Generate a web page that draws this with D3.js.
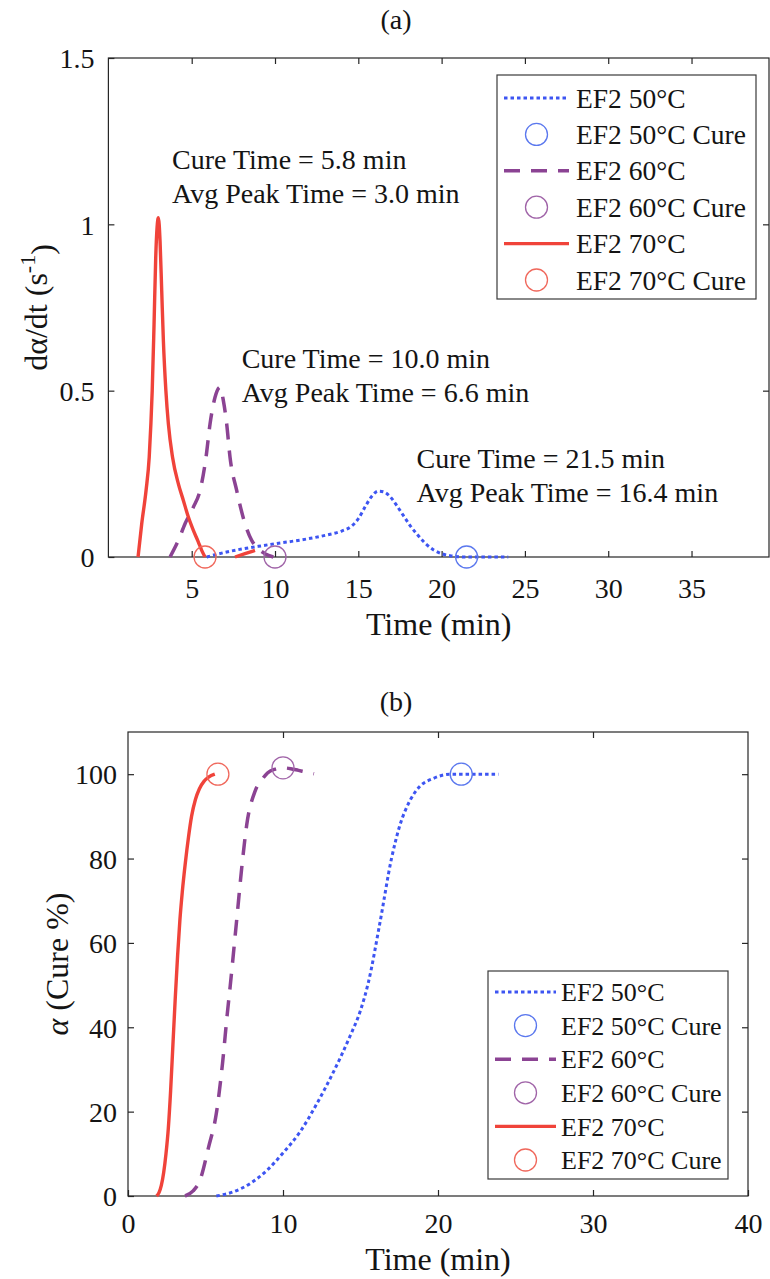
<!DOCTYPE html>
<html>
<head>
<meta charset="utf-8">
<script src="https://cdn.jsdelivr.net/npm/d3@7"></script>
<style>
  html, body { margin: 0; padding: 0; background: #fff; }
  svg, svg text { font-family: "Liberation Serif", "Times New Roman", Times, serif; }
</style>
</head>
<body>
<svg id="fig" width="770" height="1279"></svg>
<script>
// ---- data ---------------------------------------------------------------
const seriesNames = ["EF2 50°C", "EF2 60°C", "EF2 70°C"];
const cureTimes = [21.5, 10.0, 5.8];      // min
const peakTimes = [16.4, 6.6, 3.0];       // min
const cureAlpha = [100, 101.5, 100];      // % at cure point
const cureRate  = [0, 0, 0];              // dα/dt at cure point

// (a) cure rate dα/dt vs time
const rateT50 = [5.9, 6.5, 7, 8, 9, 10, 11, 12, 13, 14, 14.6, 15.0, 15.4, 15.8, 16.2, 16.5, 16.9, 17.3, 17.7, 18.1, 18.5, 19.0, 19.5, 20.0, 20.5, 21.0, 21.5, 22, 23, 24];
const rate50  = [0, 0.008, 0.014, 0.024, 0.032, 0.04, 0.047, 0.055, 0.065, 0.078, 0.093, 0.115, 0.15, 0.182, 0.198, 0.196, 0.182, 0.155, 0.125, 0.095, 0.07, 0.042, 0.022, 0.01, 0.004, 0.001, 0, 0, 0, 0];

const rateT60 = [3.7, 4.2, 4.6, 5.1, 5.5, 5.86, 6.1, 6.4, 6.7, 6.9, 7.1, 7.3, 7.7, 8.2, 8.6, 9.0, 9.4, 9.9];
const rate60  = [0, 0.05, 0.1, 0.15, 0.2, 0.3, 0.4, 0.48, 0.51, 0.47, 0.4, 0.3, 0.2, 0.1, 0.05, 0.025, 0.01, 0];

const rateT70 = [1.78, 2.0, 2.26, 2.45, 2.55, 2.63, 2.74, 2.84, 2.92, 3.0, 3.1, 3.2, 3.3, 3.45, 3.6, 3.85, 4.2, 4.5, 4.8, 5.1, 5.4, 5.6, 5.8, 6.7, 7.6, 8.2, 8.8];
const rate70  = [0, 0.1, 0.2, 0.3, 0.4, 0.5, 0.7, 0.9, 0.99, 1.02, 0.95, 0.8, 0.65, 0.5, 0.4, 0.3, 0.22, 0.17, 0.12, 0.08, 0.045, 0.02, 0, null, 0, 0.01, 0.02];

// (b) degree of cure α vs time
const alphaT50 = [5.7, 6.8, 7.9, 9.0, 10.0, 11.1, 12.2, 13.2, 14.3, 15.0, 15.5, 16.25, 17.0, 17.55, 18.2, 18.8, 19.7, 20.8, 21.5, 22.5, 23.9];
const alpha50  = [0, 1, 3, 6.2, 10.2, 15.2, 22, 29, 37.7, 44, 50.5, 64.7, 80, 88, 93.8, 97, 99, 100, 100, 100, 100];

const alphaT60 = [3.68, 4.2, 4.65, 5.2, 5.7, 6.1, 6.4, 6.6, 7.0, 7.4, 7.66, 8.2, 8.7, 9.0, 9.5, 10.0, 10.5, 11.0, 11.5, 12.0];
const alpha60  = [0, 1.2, 3.8, 11.6, 19.6, 31.5, 43, 50, 65, 80, 88, 96, 99, 100.3, 101.2, 101.5, 101.3, 100.9, 100.5, 100.1];

const alphaT70 = [1.85, 2.0, 2.15, 2.3, 2.45, 2.6, 2.75, 2.9, 3.05, 3.2, 3.35, 3.5, 3.7, 3.9, 4.1, 4.35, 4.6, 4.9, 5.2, 5.6];
const alpha70  = [0, 0.8, 2.5, 5.5, 10, 16, 25, 36, 47, 57, 65.5, 72, 79, 85, 90, 94, 96.5, 98.3, 99.3, 100];

// ticks
const xTicksA = [5, 10, 15, 20, 25, 30, 35];
const yTicksA = [0, 0.5, 1, 1.5];
const xTicksB = [0, 10, 20, 30, 40];
const yTicksB = [0, 20, 40, 60, 80, 100];

// ---- styles -------------------------------------------------------------
const styles = [
  { line: "#3d55f2", mark: "#5b78ee", width: 3,   dash: "3.5,3" },
  { line: "#8b4393", mark: "#a064a8", width: 3.5, dash: "16,11" },
  { line: "#f0433a", mark: "#f0685c", width: 3.4, dash: null }
];
const axisColor = "#262626";
const textColor = "#141414";

const svg = d3.select("#fig");

function drawPanel(opt) {
  const g = svg.append("g");
  const x = d3.scaleLinear().domain(opt.xDomain).range([opt.left, opt.right]);
  const y = d3.scaleLinear().domain(opt.yDomain).range([opt.bottom, opt.top]);

  // frame
  g.append("rect")
    .attr("x", opt.left).attr("y", opt.top)
    .attr("width", opt.right - opt.left).attr("height", opt.bottom - opt.top)
    .attr("fill", "none").attr("stroke", axisColor).attr("stroke-width", 1.2);

  const styleAxis = sel => {
    sel.attr("font-family", null).attr("font-size", null);
    sel.select(".domain").remove();
    sel.selectAll(".tick line").attr("stroke", axisColor).attr("stroke-width", 1.2);
    sel.selectAll("text").attr("fill", textColor).style("font-size", "28px");
  };

  const bx = g.append("g").attr("transform", `translate(0,${opt.bottom})`)
    .call(d3.axisBottom(x).tickValues(opt.xTicks).tickSize(-6).tickSizeOuter(0).tickFormat(d3.format("d")))
    .call(styleAxis);
  bx.selectAll("text").attr("y", opt.xLabelOffset).attr("dy", 0);

  g.append("g").attr("transform", `translate(0,${opt.top})`)
    .call(d3.axisTop(x).tickValues(opt.xTicks.filter(v => v > opt.xDomain[0] && v < opt.xDomain[1])).tickSize(-6).tickSizeOuter(0).tickFormat(""))
    .call(styleAxis);

  const ly = g.append("g").attr("transform", `translate(${opt.left},0)`)
    .call(d3.axisLeft(y).tickValues(opt.yTicks).tickSize(-6).tickSizeOuter(0).tickFormat(opt.yFormat))
    .call(styleAxis);
  ly.selectAll("text").attr("x", -opt.yLabelOffset).attr("dy", "0.35em");

  g.append("g").attr("transform", `translate(${opt.right},0)`)
    .call(d3.axisRight(y).tickValues(opt.yTicks.filter(v => v > opt.yDomain[0] && v < opt.yDomain[1])).tickSize(-6).tickSizeOuter(0).tickFormat(""))
    .call(styleAxis);

  // curves
  const line = d3.line()
    .defined(d => d[1] != null)
    .x(d => x(d[0])).y(d => y(d[1]))
    .curve(d3.curveMonotoneX);

  opt.series.forEach((s, i) => {
    const st = styles[i];
    const pts = s.t.map((t, k) => [t, s.v[k]]);
    g.append("path")
      .attr("d", line(pts))
      .attr("fill", "none")
      .attr("stroke", st.line)
      .attr("stroke-width", st.width)
      .attr("stroke-dasharray", st.dash)
      .attr("stroke-linejoin", "round");
  });

  // cure markers
  cureTimes.forEach((t, i) => {
    g.append("circle")
      .attr("cx", x(t)).attr("cy", y(opt.cureY[i]))
      .attr("r", 11)
      .attr("fill", "none")
      .attr("stroke", styles[i].mark)
      .attr("stroke-width", 1.3);
  });

  // axis titles
  g.append("text")
    .attr("x", (opt.left + opt.right) / 2).attr("y", opt.xTitleY)
    .attr("text-anchor", "middle").style("font-size", "32px").attr("fill", textColor)
    .text("Time (min)");

  const yt = g.append("text")
    .attr("transform", `translate(${opt.yTitleX},${(opt.top + opt.bottom) / 2}) rotate(-90)`)
    .attr("text-anchor", "middle").attr("dy", "0.35em")
    .style("font-size", "32px").attr("fill", textColor);
  opt.yTitle(yt);

  // panel letter
  svg.append("text")
    .attr("x", 396).attr("y", opt.letterY)
    .attr("text-anchor", "middle").style("font-size", "28px").attr("fill", textColor)
    .text(opt.letter);

  // legend
  const lg = g.append("g");
  const L = opt.legend;
  lg.append("rect")
    .attr("x", L.x0).attr("y", L.y0).attr("width", L.x1 - L.x0).attr("height", L.y1 - L.y0)
    .attr("fill", "#fff").attr("stroke", "#3a3a3a").attr("stroke-width", 1.2);
  const entries = [];
  seriesNames.forEach((n, i) => {
    entries.push({ label: n, kind: "line", s: i });
    entries.push({ label: n + " Cure", kind: "circle", s: i });
  });
  entries.forEach((e, k) => {
    const cy = L.row0 + k * L.rowStep;
    const st = styles[e.s];
    if (e.kind === "line") {
      lg.append("line")
        .attr("x1", L.lx0).attr("x2", L.lx1).attr("y1", cy).attr("y2", cy)
        .attr("stroke", st.line).attr("stroke-width", st.width)
        .attr("stroke-dasharray", st.dash);
    } else {
      lg.append("circle")
        .attr("cx", (L.lx0 + L.lx1) / 2).attr("cy", cy).attr("r", 11)
        .attr("fill", "none").attr("stroke", st.mark).attr("stroke-width", 1.3);
    }
    lg.append("text")
      .attr("x", L.tx).attr("y", cy).attr("dy", "0.35em")
      .style("font-size", L.fontSize + "px").attr("fill", textColor)
      .text(e.label);
  });

  return { x, y, g };
}

// ---- panel (a) ----------------------------------------------------------
const A = drawPanel({
  left: 108.4, right: 769, top: 58, bottom: 557,
  xDomain: [0, 39.65], yDomain: [0, 1.5],
  xTicks: xTicksA, yTicks: yTicksA, yFormat: d => d3.format("")(d),
  xLabelOffset: 41, yLabelOffset: 14,
  xTitleY: 635, yTitleX: 36,
  yTitle: t => {
    t.append("tspan").text("dα/dt (s");
    t.append("tspan").attr("dy", "-0.55em").style("font-size", "22px").text("-1");
    t.append("tspan").attr("dy", "0.55em").text(")");
  },
  series: [
    { t: rateT50, v: rate50 },
    { t: rateT60, v: rate60 },
    { t: rateT70, v: rate70 }
  ],
  cureY: cureRate,
  letter: "(a)", letterY: 29,
  legend: { x0: 497, x1: 756, y0: 75, y1: 299, row0: 98, rowStep: 36.4, lx0: 504, lx1: 569, tx: 576, fontSize: 27.5 }
});

// annotations on panel (a): anchor in data units, one per series
const noteAnchors = [ [18.5, 0.267], [8.0, 0.567], [3.82, 1.165] ];
noteAnchors.forEach((p, i) => {
  const tx = A.x(p[0]), ty = A.y(p[1]);
  const txt = A.g.append("text")
    .style("font-size", "28px").attr("fill", textColor);
  txt.append("tspan").attr("x", tx).attr("y", ty).text(`Cure Time = ${cureTimes[i].toFixed(1)} min`);
  txt.append("tspan").attr("x", tx).attr("y", ty + 33.5).text(`Avg Peak Time = ${peakTimes[i].toFixed(1)} min`);
});

// ---- panel (b) ----------------------------------------------------------
drawPanel({
  left: 128, right: 748, top: 732, bottom: 1196,
  xDomain: [0, 40], yDomain: [0, 110],
  xTicks: xTicksB, yTicks: yTicksB, yFormat: d3.format("d"),
  xLabelOffset: 37, yLabelOffset: 11,
  xTitleY: 1270, yTitleX: 57,
  yTitle: t => {
    t.append("tspan").attr("font-style", "italic").text("α");
    t.append("tspan").text(" (Cure %)");
  },
  series: [
    { t: alphaT50, v: alpha50 },
    { t: alphaT60, v: alpha60 },
    { t: alphaT70, v: alpha70 }
  ],
  cureY: cureAlpha,
  letter: "(b)", letterY: 711,
  legend: { x0: 488, x1: 728, y0: 971, y1: 1179, row0: 992, rowStep: 33.6, lx0: 495, lx1: 556, tx: 561, fontSize: 26 }
});
</script>
</body>
</html>
